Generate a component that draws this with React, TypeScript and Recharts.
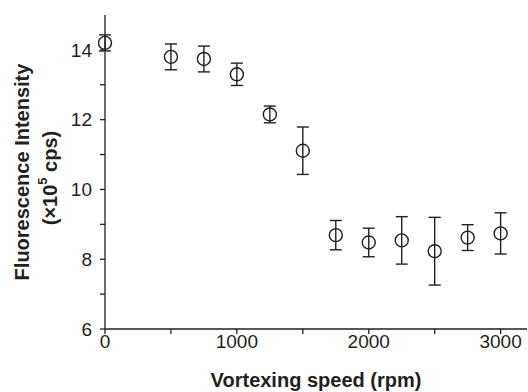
import React from 'react';
import { ScatterChart, Scatter, XAxis, YAxis, ErrorBar } from 'recharts';

// vortexing speed (rpm)
const speeds = [0, 500, 750, 1000, 1250, 1500, 1750, 2000, 2250, 2500, 2750, 3000];
// fluorescence intensity (x10^5 cps)
const intensity = [14.2, 13.8, 13.74, 13.3, 12.15, 11.11, 8.69, 8.48, 8.54, 8.23, 8.62, 8.74];
// standard deviations
const errors = [0.23, 0.37, 0.37, 0.32, 0.24, 0.68, 0.42, 0.41, 0.68, 0.97, 0.37, 0.59];

const xTicks = [0, 500, 1000, 1500, 2000, 2500, 3000];
const yTicks = [6, 7, 8, 9, 10, 11, 12, 13, 14];

const data = speeds.map((s, i) => ({ speed: s, value: intensity[i], err: errors[i] }));

const FONT = '"Liberation Sans", Arial, Helvetica, sans-serif';
const INK = '#231f20';

const OpenCircle = (props: any) => {
  const { cx, cy } = props;
  return <circle cx={cx} cy={cy} r={6.5} fill="none" stroke={INK} strokeWidth={1.4} />;
};

const YTitle = () => (
  <g>
    <text
      transform="translate(22,172) rotate(-90)"
      textAnchor="middle"
      dominantBaseline="central"
      fontFamily={FONT}
      fontWeight="bold"
      fontSize={20}
      fill={INK}
    >
      Fluorescence Intensity
    </text>
    <text
      transform="translate(50,178) rotate(-90)"
      textAnchor="middle"
      dominantBaseline="central"
      fontFamily={FONT}
      fontWeight="bold"
      fontSize={20}
      fill={INK}
    >
      (×10<tspan fontSize={13} dy={-8}>5</tspan><tspan dy={8}> cps)</tspan>
    </text>
  </g>
);

const XTitle = () => (
  <text x={316} y={380} textAnchor="middle" dominantBaseline="central"
    fontFamily={FONT} fontWeight="bold" fontSize={20} fill={INK}>
    Vortexing speed (rpm)
  </text>
);

export default function App() {
  return (
    <div style={{ position: 'absolute', left: 0, top: 0, width: 528, height: 392, background: '#fff' }}>
      <ScatterChart width={528} height={392} margin={{ top: 15, right: 1, bottom: 0, left: 0 }}>
        <XAxis
          type="number"
          dataKey="speed"
          domain={[0, 3200]}
          ticks={xTicks}
          tickFormatter={(v) => (v % 1000 === 0 ? String(v) : '')}
          height={63}
          tickSize={5}
          tickMargin={1}
          stroke={INK}
          strokeWidth={1.3}
          tick={{ fill: INK, fontSize: 19, fontFamily: FONT }}
          label={<XTitle />}
        />
        <YAxis
          type="number"
          dataKey="value"
          domain={[6, 15]}
          ticks={yTicks}
          tickFormatter={(v) => (v % 2 === 0 ? String(v) : '')}
          width={105}
          tickSize={5}
          tickMargin={8}
          stroke={INK}
          strokeWidth={1.3}
          tick={{ fill: INK, fontSize: 19, fontFamily: FONT }}
          label={<YTitle />}
        />
        <Scatter data={data} shape={<OpenCircle />} isAnimationActive={false}>
          <ErrorBar dataKey="err" direction="y" width={6} stroke={INK} strokeWidth={1.4} isAnimationActive={false} />
        </Scatter>
      </ScatterChart>
    </div>
  );
}
